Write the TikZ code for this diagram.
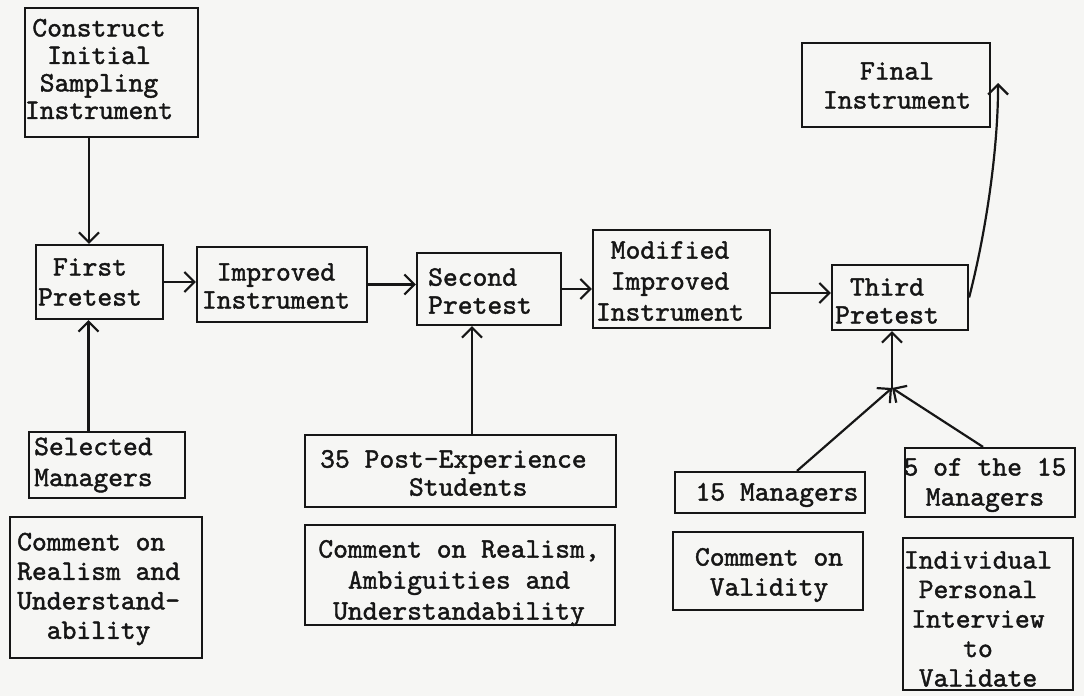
\documentclass[tikz,border=0pt]{standalone}
\usetikzlibrary{arrows.meta,calc}
\definecolor{paper}{RGB}{246,246,244}
\definecolor{ink}{RGB}{22,22,22}
\font\twf="[lmmono10-regular.otf]:embolden=1.5" at 28.2pt
\begin{document}
\begin{tikzpicture}[x=1pt,y=-1pt,
  box/.style={draw=ink, line width=2.2pt, inner sep=0pt, rectangle},
  txt/.style={font={\twf\baselineskip=29.5pt}, text=ink, inner sep=0pt, align=center},
  lsk/.style={font={\twf\baselineskip=#1pt}},
  arr/.style={draw=ink, line width=2.2pt, -{Straight Barb[length=10pt,width=20pt]}},
  ln/.style={draw=ink, line width=2.2pt}]
\useasboundingbox[fill=paper] (0,0) rectangle (1084,696);

% boxes
\node[box, minimum width=173pt, minimum height=129pt] (construct) at (111.5,72.5) {};
\node[box, minimum width=127pt, minimum height=74pt] (first) at (99.5,282) {};
\node[box, minimum width=170pt, minimum height=75pt] (improved) at (282,284.5) {};
\node[box, minimum width=144pt, minimum height=72pt] (second) at (489,289) {};
\node[box, minimum width=177pt, minimum height=98pt] (modified) at (681.5,279) {};
\node[box, minimum width=136pt, minimum height=65pt] (third) at (900,297.5) {};
\node[box, minimum width=188pt, minimum height=84pt] (final) at (896,85) {};
\node[box, minimum width=156pt, minimum height=66pt] (selected) at (107,465) {};
\node[box, minimum width=192pt, minimum height=141pt] (comment1) at (106,587.5) {};
\node[box, minimum width=311pt, minimum height=72pt] (post) at (460.5,471) {};
\node[box, minimum width=310pt, minimum height=100pt] (comment2) at (460,575) {};
\node[box, minimum width=190pt, minimum height=41pt] (m15) at (770,492.5) {};
\node[box, minimum width=190pt, minimum height=78pt] (validity) at (768,571) {};
\node[box, minimum width=170pt, minimum height=69pt] (five) at (990,482.5) {};
\node[box, minimum width=170pt, minimum height=152pt] (individual) at (988,614) {};

% texts
\node[txt, lsk=27.5] (tconstruct) at (99,69) {Construct\\Initial\\Sampling\\Instrument};
\node[txt, lsk=30] (tfirst) at (90,282) {First\\Pretest};
\node[txt, lsk=28] (timproved) at (276,286) {Improved\\Instrument};
\node[txt, lsk=28, align=left, anchor=west] (tsecond) at (428,291) {Second\\Pretest};
\node[txt, lsk=31] (tmodified) at (670,281) {Modified\\Improved\\Instrument};
\node[txt, lsk=28] (tthird) at (887,301) {Third\\Pretest};
\node[txt, lsk=29] (tfinal) at (897,85.5) {Final\\Instrument};
\node[txt, lsk=31, align=left, anchor=west] (tselected) at (34,465) {Selected\\Managers};
\node[txt, lsk=29.5, align=left, anchor=west] (tcomment1) at (17,589) {Comment on\\Realism and\\Understand-\\\phantom{ab}ability};
\node[txt, lsk=28, align=left, anchor=west] (tpost) at (320,473) {35 Post-Experience\\\phantom{xxxxxx}Students};
\node[txt, lsk=31] (tcomment2) at (459,583) {Comment on Realism,\\Ambiguities and\\Understandability};
\node[txt] (tm15) at (777,495) {15 Managers};
\node[txt, lsk=30] (tvalidity) at (769,575) {Comment on\\Validity};
\node[txt, lsk=30] (tfive) at (985,485) {5 of the 15\\Managers};
\node[txt, lsk=29.5] (tindividual) at (978,619) {Individual\\Personal\\Interview\\to\\Validate};

% helper coordinates
\coordinate (fpn) at ([xshift=-10.5pt]first.north);
\coordinate (fps) at ([xshift=-11pt]first.south);
\coordinate (sps) at ([xshift=-17pt]second.south);
\coordinate (J) at (892,388);
\coordinate (tw) at ([yshift=4.5pt]third.west);

% connectors
\draw[arr] (fpn |- construct.south) -- (fpn);
\draw[arr] (fps |- selected.north) -- (fps);
\draw[arr] (first.east) -- (first.east -| improved.west);
\draw[arr] (improved.east) -- (improved.east -| second.west);
\draw[arr] (second.east) -- (second.east -| modified.west);
\draw[arr] (tw -| modified.east) -- (tw);
\draw[arr] (sps |- post.north) -- (sps);
\draw[arr] (J) -- (J |- third.south);
\draw[arr] ([xshift=27pt]m15.north) -- (J);
\draw[arr] ([xshift=-7pt]five.north) -- (J);
\draw[arr] (third.east) .. controls (986,232) and (998,150) .. ([xshift=7pt,yshift=2pt]final.east);
\end{tikzpicture}
\end{document}
